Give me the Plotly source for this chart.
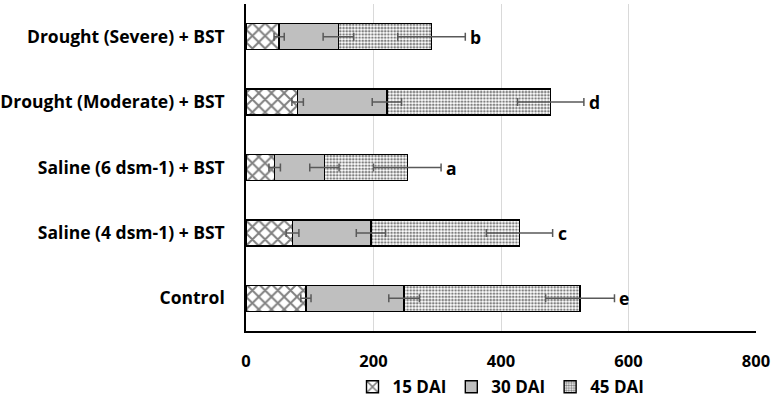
import plotly.graph_objects as go
import numpy as np

categories = ["Control", "Saline (4 dsm-1) + BST", "Saline (6 dsm-1) + BST",
              "Drought (Moderate) + BST", "Drought (Severe) + BST"]
dai15 = [94, 73, 45, 81, 52]
dai30 = [154, 123, 78, 140, 93]
dai45 = [276, 233, 130, 257, 146]
err15 = [8, 10, 9, 9, 8]
err30 = [24, 23, 23, 23, 24]
err45 = [54, 52, 53, 52, 53]
letters = ["e", "c", "a", "d", "b"]
series_names = ["15 DAI", "30 DAI", "45 DAI"]

FONT = "Open Sans"
fig = go.Figure()

line = dict(color="black", width=1.4)
fig.add_trace(go.Bar(y=categories, x=dai15, orientation="h", name=series_names[0],
                     marker=dict(color="white", line=line,
                                 pattern=dict(shape="x", fgcolor="black", bgcolor="white",
                                              size=9, solidity=0.38, fillmode="overlay"))))
fig.add_trace(go.Bar(y=categories, x=dai30, orientation="h", name=series_names[1],
                     marker=dict(color="#BFBFBF", line=line)))
fig.add_trace(go.Bar(y=categories, x=dai45, orientation="h", name=series_names[2],
                     marker=dict(color="white", line=line,
                                 pattern=dict(shape=".", fgcolor="black", bgcolor="white",
                                              size=3.2, solidity=0.5, fillmode="overlay"))))

cum1 = np.array(dai15)
cum2 = cum1 + np.array(dai30)
cum3 = cum2 + np.array(dai45)
for cx, ev in [(cum1, err15), (cum2, err30), (cum3, err45)]:
    fig.add_trace(go.Scatter(y=categories, x=cx, mode="markers",
                             marker=dict(size=0.1, color="rgba(0,0,0,0)"),
                             showlegend=False, hoverinfo="skip",
                             error_x=dict(type="data", array=ev, visible=True,
                                          color="#595959", thickness=1.5, width=4)))

for c, tot, e, l in zip(categories, cum3, err45, letters):
    fig.add_annotation(x=tot + e, y=c, text=l, showarrow=False, xanchor="left",
                       xshift=3, font=dict(family=FONT, size=17.5, color="black", weight="bold"))

fig.update_layout(
    barmode="stack", bargap=0.6,
    width=780, height=399,
    margin=dict(l=246, r=24, t=4, b=68, autoexpand=False),
    paper_bgcolor="white", plot_bgcolor="white",
    font=dict(family=FONT, size=16, color="black", weight="bold"),
    legend=dict(orientation="h", x=0.5, xanchor="center", y=-0.172, yanchor="middle",
                traceorder="normal",
                font=dict(family=FONT, size=17, color="black", weight="bold"),
                itemwidth=30, tracegroupgap=0),
    showlegend=True,
)
fig.update_xaxes(range=[0, 800], dtick=200, showgrid=True, gridcolor="#D9D9D9", gridwidth=1,
                 showline=True, linecolor="black", linewidth=1.5, zeroline=False,
                 ticks="", ticklabelstandoff=14,
                 tickfont=dict(family=FONT, size=16.5, color="black", weight="bold"))
fig.update_yaxes(showline=True, linecolor="black", linewidth=1.5, ticks="",
                 ticklabelstandoff=16, showgrid=False,
                 tickfont=dict(family=FONT, size=17.5, color="black", weight="bold"))

fig.write_html("out.html", config={"displayModeBar": False},
               post_script="document.body.style.margin='0';")
